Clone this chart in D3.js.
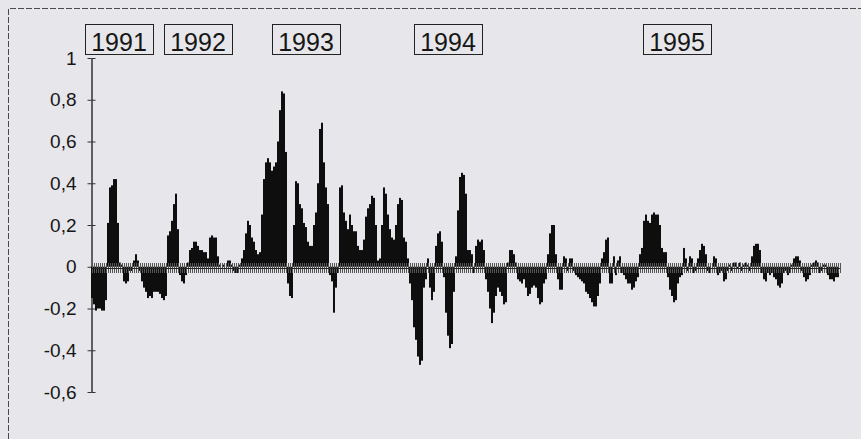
<!DOCTYPE html>
<html>
<head>
<meta charset="utf-8">
<script src="https://cdn.jsdelivr.net/npm/d3@7"></script>
<style>
  html, body { margin: 0; padding: 0; background: #e7e7eb; }
  svg { display: block; }
  text { font-family: "Liberation Sans", Arial, sans-serif; fill: #161616; }
</style>
</head>
<body>
<svg id="chart" width="861" height="439"></svg>
<script>
// Period-by-period values of the series (one bar per period)
const values = [
  -0.15,-0.18,-0.21,-0.2,-0.2,-0.21,-0.21,-0.16,0.21,0.38,
  0.39,0.42,0.42,0.21,0.02,0.01,-0.07,-0.08,-0.07,-0.02,
  -0.02,0.03,0.06,0.03,-0.02,-0.07,-0.1,-0.12,-0.15,-0.14,
  -0.15,-0.12,-0.12,-0.12,-0.13,-0.15,-0.16,-0.14,0.15,0.17,
  0.22,0.3,0.35,0.18,-0.04,-0.07,-0.08,-0.04,0.02,0.08,
  0.09,0.12,0.12,0.1,0.08,0.08,0.07,0.07,0.04,0.14,
  0.15,0.14,0.14,0.05,0.01,0.0,0.01,0.0,0.03,0.03,
  0.01,-0.02,-0.03,-0.03,0.01,0.04,0.08,0.16,0.22,0.2,
  0.14,0.12,0.08,0.06,0.07,0.25,0.42,0.5,0.52,0.5,
  0.46,0.48,0.5,0.6,0.75,0.84,0.83,0.55,-0.08,-0.14,
  -0.15,0.2,0.41,0.4,0.3,0.28,0.21,0.19,0.12,0.1,
  0.1,0.2,0.26,0.4,0.66,0.69,0.5,0.38,0.3,-0.04,
  -0.07,-0.22,-0.1,-0.03,0.38,0.39,0.26,0.22,0.18,0.25,
  0.2,0.17,0.17,0.1,0.08,0.08,0.13,0.24,0.28,0.3,
  0.34,0.33,0.2,0.03,0.04,0.2,0.38,0.35,0.25,0.18,
  0.14,0.13,0.2,0.3,0.33,0.32,0.14,0.12,0.04,-0.08,
  -0.16,-0.29,-0.35,-0.43,-0.47,-0.45,-0.1,-0.06,0.04,-0.1,
  -0.16,-0.12,0.1,0.16,0.17,0.12,-0.05,-0.22,-0.33,-0.39,
  -0.37,-0.12,0.05,0.27,0.43,0.45,0.44,0.35,0.08,0.08,
  0.06,-0.03,0.1,0.13,0.12,0.13,0.08,-0.06,-0.12,-0.2,
  -0.27,-0.22,-0.14,-0.1,-0.12,-0.14,-0.18,-0.17,0.02,0.08,
  0.08,0.06,0.02,-0.06,-0.07,-0.08,-0.06,-0.1,-0.14,-0.13,
  -0.1,-0.09,-0.1,-0.15,-0.18,-0.17,-0.08,-0.06,0.06,0.16,
  0.2,0.2,0.06,-0.06,-0.11,-0.11,0.05,0.04,-0.02,0.04,
  0.04,-0.02,-0.04,-0.05,-0.06,-0.07,-0.08,-0.12,-0.13,-0.15,
  -0.17,-0.19,-0.19,-0.14,-0.08,0.04,0.07,0.13,0.14,-0.08,
  -0.08,0.05,-0.04,0.03,0.05,-0.03,-0.04,-0.06,-0.08,-0.08,
  -0.11,-0.1,-0.07,-0.05,0.06,0.09,0.22,0.25,0.22,0.21,
  0.25,0.26,0.25,0.25,0.2,0.09,0.07,0.07,-0.05,-0.11,
  -0.14,-0.17,-0.16,-0.08,-0.05,-0.04,0.09,0.04,-0.02,0.05,
  0.04,-0.03,-0.02,0.04,0.08,0.11,0.1,0.06,-0.02,-0.03,
  0.0,0.05,0.04,-0.04,-0.03,-0.02,-0.07,-0.06,-0.02,0.01,
  -0.02,0.02,0.02,-0.01,0.02,-0.02,0.01,0.02,0.01,-0.02,
  0.05,0.1,0.11,0.11,0.08,-0.03,-0.06,-0.07,-0.03,-0.04,
  -0.03,-0.05,-0.06,-0.09,-0.1,-0.08,-0.03,-0.02,-0.04,-0.03,
  0.01,0.04,0.05,0.05,0.03,-0.02,-0.05,-0.07,-0.06,-0.04,
  0.01,0.02,0.03,0.02,-0.03,-0.02,0.01,0.01,-0.04,-0.06,
  -0.06,-0.07,-0.05,-0.05
];

// Period index of each bar
const periods = values.map((_, i) => i);

// Year labels and the period each label box is centred on
const yearLabels = ["1991", "1992", "1993", "1994", "1995"];
const yearCentres = [13.5, 53, 107, 178, 292.5];

// Value axis ticks
const yTicks = [-0.6, -0.4, -0.2, 0, 0.2, 0.4, 0.6, 0.8, 1];

const svg = d3.select("#chart");
const W = 861, H = 439;
const plot = { left: 91, right: 839, top: 58, bottom: 392 };

// Dashed frame (top and left edges visible in the window)
svg.append("path")
  .attr("d", `M8.5,${H} L8.5,8.5 L${W},8.5`)
  .attr("fill", "none")
  .attr("stroke", "#4a4a4a")
  .attr("stroke-width", 1)
  .attr("stroke-dasharray", "6,2");

const x = d3.scaleBand().domain(periods).range([plot.left, plot.right]).padding(0);
const xIdx = d3.scaleLinear().domain([0, values.length]).range([plot.left, plot.right]);
const y = d3.scaleLinear().domain([-0.6, 1]).range([plot.bottom, plot.top]);

// Decimal comma, plain hyphen for negatives
const fmt = v => (Math.abs(v) < 1e-9 ? "0" : String(+v.toFixed(1)).replace(".", ","));

// Value axis with crossing ticks
const yAxisL = svg.append("g")
  .attr("transform", `translate(${plot.left + 0.5},0)`)
  .call(d3.axisLeft(y).tickValues(yTicks).tickSizeInner(4).tickSizeOuter(0)
        .tickPadding(11).tickFormat(fmt));
const yAxisR = svg.append("g")
  .attr("transform", `translate(${plot.left + 0.5},0)`)
  .call(d3.axisRight(y).tickValues(yTicks).tickSizeInner(4).tickSizeOuter(0).tickFormat(""));
[yAxisL, yAxisR].forEach(g => {
  g.select(".domain").attr("stroke", "#333");
  g.selectAll(".tick line").attr("stroke", "#333");
});
yAxisL.selectAll(".tick text")
  .style("font-size", "19px")
  .attr("fill", "#161616");

// Bars
svg.append("g")
  .selectAll("rect")
  .data(values)
  .join("rect")
  .attr("x", (d, i) => x(i))
  .attr("width", x.bandwidth())
  .attr("y", d => Math.min(y(d), y(0)))
  .attr("height", d => Math.abs(y(d) - y(0)))
  .attr("fill", "#0e0e0e");

// Category axis on the zero line, ticks crossing it at every period boundary
const boundaries = d3.range(0, values.length + 1);
const zeroY = Math.round(y(0)) + 0.5;
const xAxisB = svg.append("g")
  .attr("transform", `translate(0.5,${zeroY})`)
  .call(d3.axisBottom(xIdx).tickValues(boundaries).tickSizeInner(5).tickSizeOuter(0).tickFormat(""));
const xAxisT = svg.append("g")
  .attr("transform", `translate(0.5,${zeroY})`)
  .call(d3.axisTop(xIdx).tickValues(boundaries).tickSizeInner(5).tickSizeOuter(0).tickFormat(""));
[xAxisB, xAxisT].forEach(g => {
  g.attr("shape-rendering", "crispEdges");
  g.select(".domain").attr("stroke", "#222");
  g.selectAll(".tick line").attr("stroke", "#555").attr("stroke-width", 1);
});

// Boxed year labels
const boxW = 68, boxH = 30, boxTop = 24;
const years = svg.append("g").selectAll("g")
  .data(yearLabels)
  .join("g")
  .attr("transform", (d, i) => `translate(${Math.round(x(0) + yearCentres[i] * x.bandwidth() + x.bandwidth() / 2)},0)`);
years.append("rect")
  .attr("x", -boxW / 2 + 0.5)
  .attr("y", boxTop + 0.5)
  .attr("width", boxW)
  .attr("height", boxH)
  .attr("fill", "none")
  .attr("stroke", "#222")
  .attr("stroke-width", 1);
years.append("text")
  .attr("x", 0)
  .attr("y", boxTop + boxH - 3)
  .attr("text-anchor", "middle")
  .style("font-size", "25px")
  .text(d => d);
</script>
</body>
</html>
